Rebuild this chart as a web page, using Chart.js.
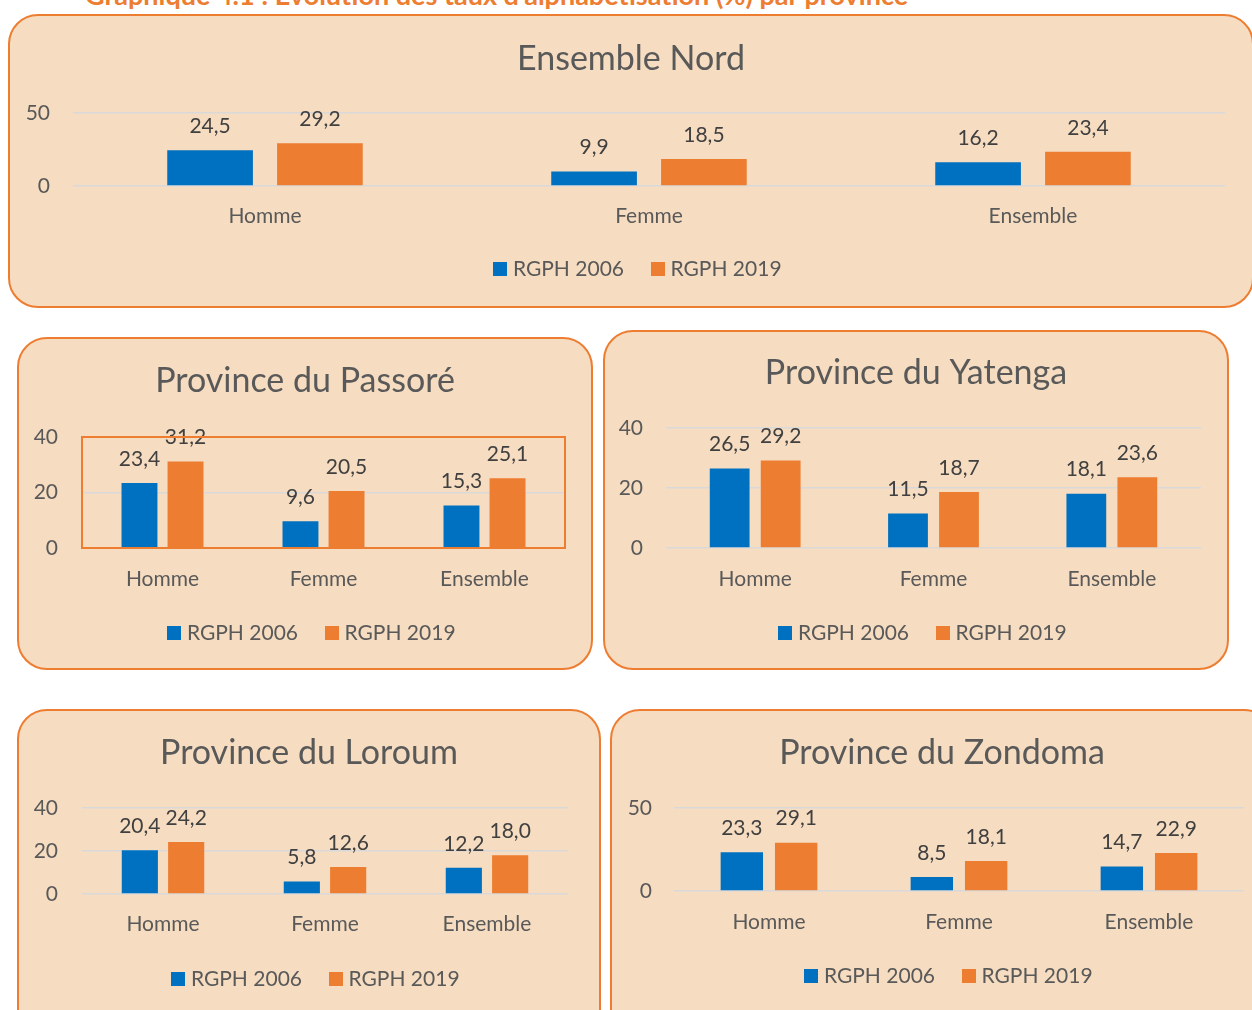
<!DOCTYPE html>
<html>
<head>
<meta charset="utf-8">
<script src="https://cdn.jsdelivr.net/npm/chart.js@4.4.1/dist/chart.umd.min.js"></script>
<style>
html,body{margin:0;padding:0;background:#ffffff;width:1252px;height:1010px;overflow:hidden;position:relative;font-family:Lato,sans-serif}
.panel{position:absolute;box-sizing:border-box;border:2px solid #ED7D31;border-radius:30px;background:#F6DCC0}
canvas.c{position:absolute}
#heading{position:absolute;left:85px;top:-19px;font:bold 27px Lato,sans-serif;color:#ED7D31;white-space:nowrap;line-height:27px}
</style>
</head>
<body>
<div id="heading">Graphique 4.1 : Evolution des taux d'alphabétisation (%) par province</div>

<script>
// ---------- DATA ----------
const categories = ['Homme', 'Femme', 'Ensemble'];
const seriesNames = ['RGPH 2006', 'RGPH 2019'];

const nord2006 = [24.5, 9.9, 16.2];
const nord2019 = [29.2, 18.5, 23.4];
const passore2006 = [23.4, 9.6, 15.3];
const passore2019 = [31.2, 20.5, 25.1];
const yatenga2006 = [26.5, 11.5, 18.1];
const yatenga2019 = [29.2, 18.7, 23.6];
const loroum2006 = [20.4, 5.8, 12.2];
const loroum2019 = [24.2, 12.6, 18.0];
const zondoma2006 = [23.3, 8.5, 14.7];
const zondoma2019 = [29.1, 18.1, 22.9];

const nordTicks = [0, 50];
const passoreTicks = [0, 20, 40];
const yatengaTicks = [0, 20, 40];
const loroumTicks = [0, 20, 40];
const zondomaTicks = [0, 50];

const titles = ['Ensemble Nord', 'Province du Passoré', 'Province du Yatenga', 'Province du Loroum', 'Province du Zondoma'];

// ---------- STYLE / LAYOUT ----------
const colors = ['#0070C0', '#ED7D31'];
const FONT = 'Lato';
const TXT = '#595959';
const TITLE_SIZE = 34, LABEL_SIZE = 21, LEG_PAD = 32, LEGEND_SHIFT = 9;

// box: [left, top, right, bottom] page coords ; plot: [left, top, right, bottom]
const panels = [
  {box:[8,14,1254,308],   plot:[73,113,1225,186],  tickRight:50,  titleY:59,  catY:216, legendY:269, d06:nord2006,    d19:nord2019,    ticks:nordTicks},
  {box:[17,337,593,670],  plot:[82,437,565,548],   tickRight:58,  titleY:381, catY:579, legendY:633, d06:passore2006, d19:passore2019, ticks:passoreTicks, frame:true},
  {box:[603,330,1229,670],plot:[666,428,1201,548], tickRight:643, titleY:373, catY:579, legendY:633, d06:yatenga2006, d19:yatenga2019, ticks:yatengaTicks},
  {box:[17,709,601,1040], plot:[82,808,568,894],   tickRight:58,  titleY:753, catY:924, legendY:979, d06:loroum2006,  d19:loroum2019,  ticks:loroumTicks},
  {box:[610,709,1274,1040],plot:[674,808,1244,891],tickRight:652, titleY:753, catY:922, legendY:976, d06:zondoma2006, d19:zondoma2019, ticks:zondomaTicks}
];

function swatch(color) {
  const c = document.createElement('canvas');
  c.width = 14; c.height = 14;
  const g = c.getContext('2d');
  g.fillStyle = color;
  g.fillRect(0, 0, 14, 14);
  return c;
}
const swatches = colors.map(swatch);

const valueLabels = {
  id: 'valueLabels',
  afterDatasetsDraw(chart, args, opts) {
    const ctx = chart.ctx;
    ctx.save();
    ctx.font = LABEL_SIZE + 'px ' + FONT;
    ctx.fillStyle = '#404040';
    ctx.textAlign = 'center';
    ctx.textBaseline = 'middle';
    chart.data.datasets.forEach((ds, i) => {
      chart.getDatasetMeta(i).data.forEach((el, j) => {
        ctx.fillText(ds.data[j].toFixed(1).replace('.', ','), el.x, el.y - opts.offset);
      });
    });
    ctx.restore();
  }
};

const plotFrame = {
  id: 'plotFrame',
  afterDraw(chart, args, opts) {
    if (!opts.show) return;
    const a = chart.chartArea, ctx = chart.ctx;
    ctx.save();
    ctx.strokeStyle = '#ED7D31';
    ctx.lineWidth = 2;
    ctx.strokeRect(a.left, a.top, a.right - a.left, a.bottom - a.top);
    ctx.restore();
  }
};

const legendNudge = {
  id: 'legendNudge',
  afterLayout(chart) {
    if (chart.legend) { chart.legend.left += LEGEND_SHIFT; chart.legend.right += LEGEND_SHIFT; }
  }
};

panels.forEach((p, idx) => {
  const [bl, bt, br, bb] = p.box;
  const [pl, pt, pr, pb] = p.plot;
  const W = br - bl, H = bb - bt;

  const div = document.createElement('div');
  div.className = 'panel';
  Object.assign(div.style, {left: bl + 'px', top: bt + 'px', width: W + 'px', height: H + 'px'});
  document.body.appendChild(div);

  const cv = document.createElement('canvas');
  cv.className = 'c';
  cv.width = W; cv.height = H;
  Object.assign(cv.style, {left: bl + 'px', top: bt + 'px', width: W + 'px', height: H + 'px'});
  document.body.appendChild(cv);

  const tlh = TITLE_SIZE * 1.2;
  const titleTop = (p.titleY - bt) - tlh / 2;
  const titleBottom = (pt - bt) - titleTop - tlh;
  const legendTop = (p.legendY - bt) - LEG_PAD - LABEL_SIZE / 2;
  const legendH = LABEL_SIZE + LEG_PAD + 10;
  const padBottom = H - (legendTop + legendH);
  const xHeight = legendTop - (pb - bt);
  const xPad = (p.catY - pb) - LABEL_SIZE * 1.2 / 2;
  const maxV = p.ticks[p.ticks.length - 1];

  new Chart(cv, {
    type: 'bar',
    data: {
      labels: categories,
      datasets: [
        {label: seriesNames[0], data: p.d06, backgroundColor: colors[0], borderWidth: 0, pointStyle: swatches[0], categoryPercentage: 0.572, barPercentage: 0.78},
        {label: seriesNames[1], data: p.d19, backgroundColor: colors[1], borderWidth: 0, pointStyle: swatches[1], categoryPercentage: 0.572, barPercentage: 0.78}
      ]
    },
    options: {
      responsive: false,
      animation: false,
      devicePixelRatio: 1,
      layout: {padding: {left: 0, right: 0, top: 0, bottom: padBottom}},
      plugins: {
        title: {display: true, text: titles[idx], color: TXT,
                font: {family: FONT, size: TITLE_SIZE, weight: 'normal', lineHeight: 1.2},
                padding: {top: titleTop, bottom: titleBottom}},
        legend: {position: 'bottom',
                 labels: {usePointStyle: true, boxWidth: 4, pointStyleWidth: 4, boxHeight: 14, color: TXT, padding: LEG_PAD,
                          font: {family: FONT, size: LABEL_SIZE}}},
        tooltip: {enabled: false},
        valueLabels: {offset: 24},
        plotFrame: {show: !!p.frame}
      },
      scales: {
        x: {
          grid: {display: false, drawTicks: false},
          border: {display: false},
          ticks: {color: TXT, font: {family: FONT, size: LABEL_SIZE}, padding: xPad},
          afterFit: s => { s.height = xHeight; }
        },
        y: {
          min: 0, max: maxV,
          grid: {color: '#D9D9D9', lineWidth: 1.5, drawTicks: false},
          border: {display: false},
          ticks: {color: TXT, font: {family: FONT, size: LABEL_SIZE}, padding: pl - p.tickRight},
          afterBuildTicks: s => { s.ticks = p.ticks.map(v => ({value: v})); },
          afterFit: s => { s.width = pl - bl; }
        },
        yr: {
          type: 'linear', position: 'right', display: true,
          grid: {display: false, drawTicks: false},
          border: {display: false},
          ticks: {display: false},
          afterFit: s => { s.width = br - pr; }
        }
      }
    },
    plugins: [valueLabels, plotFrame, legendNudge]
  });
});
</script>
</body>
</html>
